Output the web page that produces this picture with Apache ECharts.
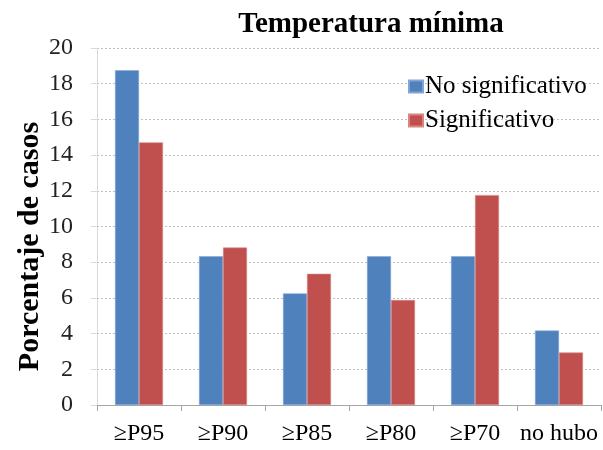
<!DOCTYPE html>
<html><head><meta charset="utf-8">
<script src="https://cdn.jsdelivr.net/npm/echarts@6/dist/echarts.min.js"></script>
<style>html,body{margin:0;padding:0;background:#fff}#c{width:603px;height:450px}</style>
</head><body><div id="c"></div>
<script>
const categories = ['\u2265P95', '\u2265P90', '\u2265P85', '\u2265P80', '\u2265P70', 'no hubo'];
const noSignificativo = [18.75, 8.33, 6.25, 8.33, 8.33, 4.17];
const significativo = [14.71, 8.82, 7.35, 5.88, 11.76, 2.94];
const yTicks = [0, 2, 4, 6, 8, 10, 12, 14, 16, 18, 20];

const FONT = '"Liberation Serif", "Times New Roman", serif';
const chart = echarts.init(document.getElementById('c'), null, {renderer: 'canvas'});
chart.setOption({
  animation: false,
  backgroundColor: '#fff',
  title: {
    text: 'Temperatura mínima',
    left: 366, top: 5, textAlign: 'center',
    textStyle: {fontFamily: FONT, fontWeight: 'bold', fontSize: 29, color: '#000'}
  },
  legend: {
    orient: 'vertical',
    left: 403, top: 69,
    itemWidth: 14, itemHeight: 12, itemGap: 9,
    icon: 'rect',
    textStyle: {fontFamily: FONT, fontSize: 25, color: '#000', padding: [0, 0, 0, -3]},
    data: ['No significativo', 'Significativo']
  },
  grid: {left: 97, right: 2, top: 48, bottom: 45, containLabel: false},
  xAxis: {
    type: 'category',
    data: categories,
    axisLine: {lineStyle: {color: '#a6a6a6', width: 1}},
    axisTick: {show: true, length: 6, lineStyle: {color: '#a6a6a6'}},
    axisLabel: {fontFamily: FONT, fontSize: 24, color: '#000', margin: 17, interval: 0}
  },
  yAxis: {
    type: 'value',
    min: 0, max: 20, interval: 2,
    name: 'Porcentaje de casos',
    nameLocation: 'middle',
    nameGap: 52,
    nameMoveOverlap: false,
    nameTextStyle: {fontFamily: FONT, fontWeight: 'bold', fontSize: 30, color: '#000', padding: [0, 40, 0, 0]},
    axisLine: {show: true, lineStyle: {color: '#d9d9d9'}},
    axisTick: {show: true, inside: false, length: 6, lineStyle: {color: '#d9d9d9'}},
    axisLabel: {fontFamily: FONT, fontSize: 24, color: '#222', margin: 24,
      formatter: v => yTicks.includes(v) ? String(v) : ''},
    splitLine: {show: true, lineStyle: {color: '#bfbfbf', type: [2, 2], width: 1}}
  },
  series: [
    {name: 'No significativo', type: 'bar', data: noSignificativo, barWidth: 24, barGap: '0%',
     itemStyle: {color: '#4F81BD', borderColor: '#7fa6d6', borderWidth: 0.6}},
    {name: 'Significativo', type: 'bar', data: significativo, barWidth: 24,
     itemStyle: {color: '#C0504D', borderColor: '#d98583', borderWidth: 0.6}}
  ]
});
</script></body></html>
